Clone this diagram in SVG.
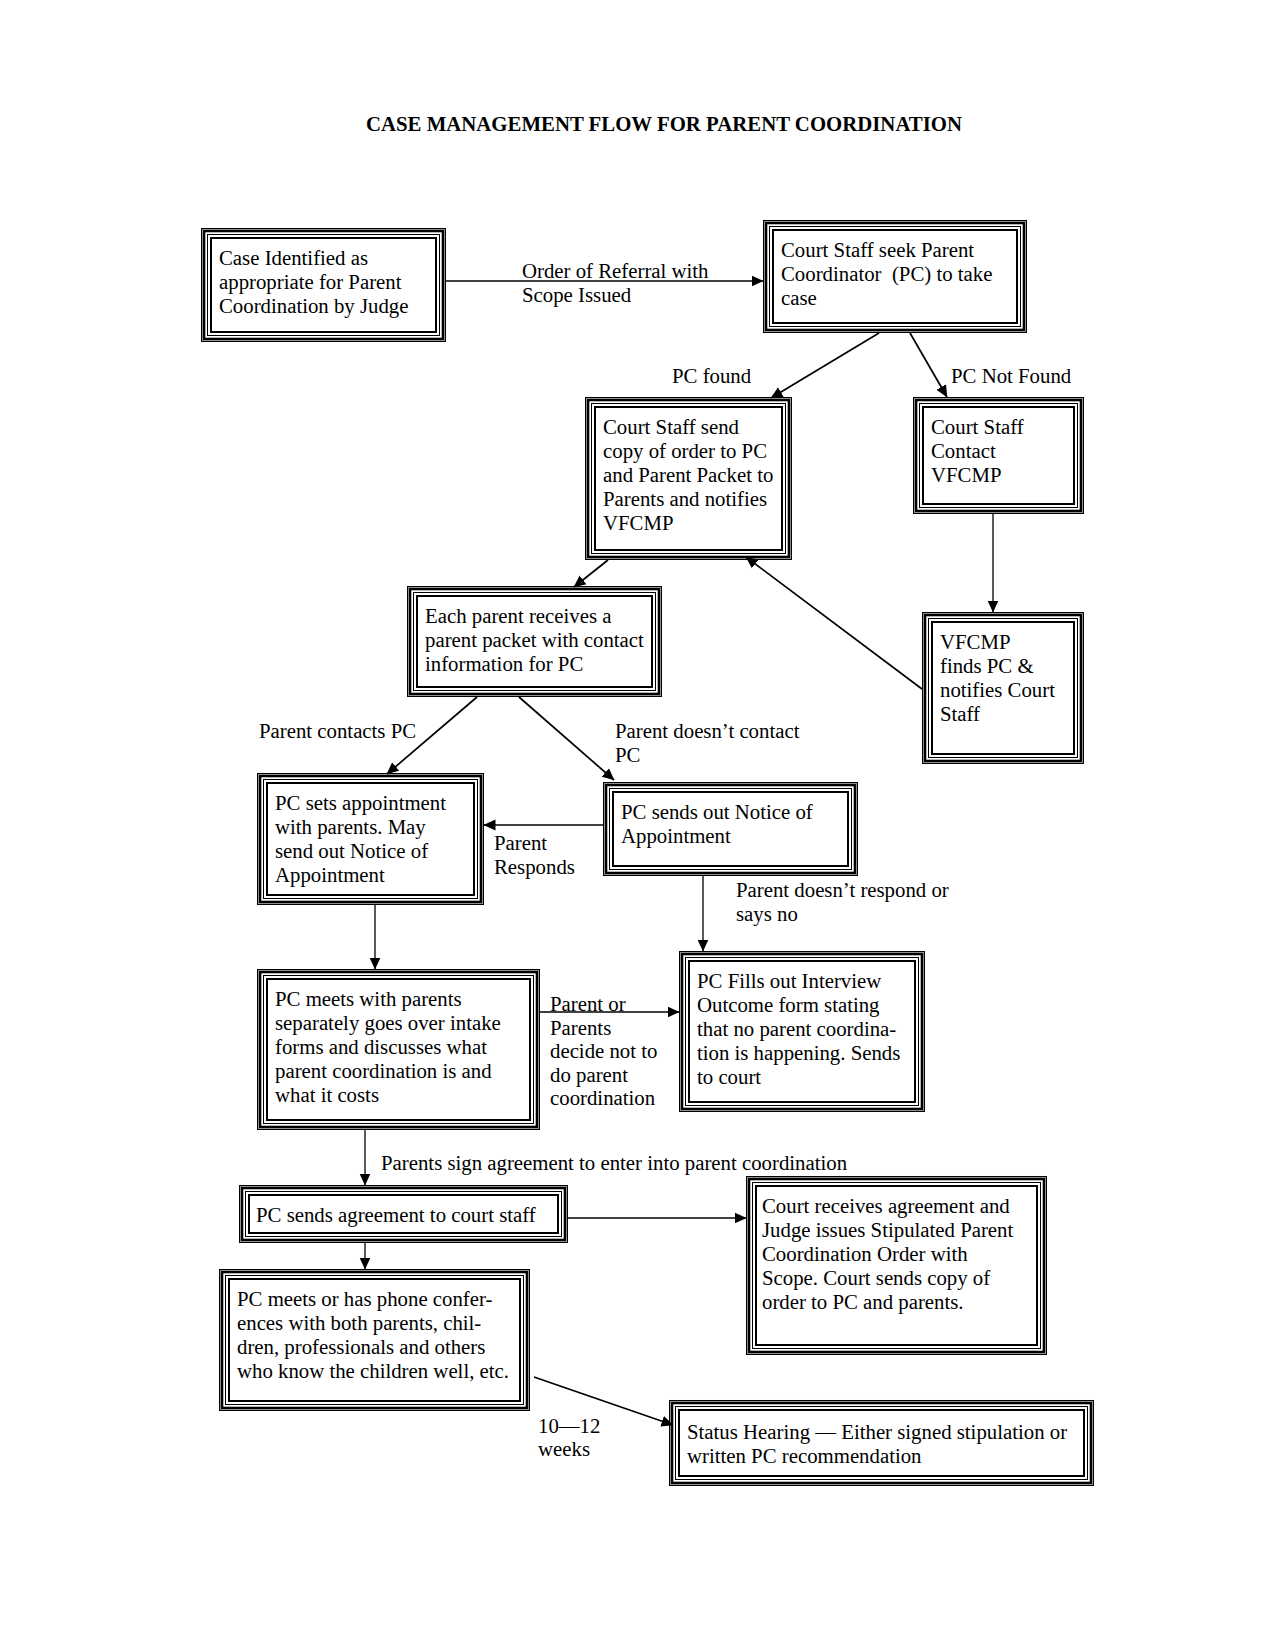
<svg xmlns="http://www.w3.org/2000/svg" width="1275" height="1650" viewBox="0 0 1275 1650">
<style>
text{font-family:"Liberation Serif","Times New Roman",serif;font-size:20.8px;fill:#000}
.title{font-weight:bold}
.f rect{fill:none;stroke:#000}
.a{stroke-width:1.2}
.b{stroke-width:2.6}
.c{stroke-width:1}
.d{stroke-width:2}
.bg{fill:#fff;stroke:none}
#connectors line{stroke:#000;stroke-width:1.7;fill:none;marker-end:url(#arr)}
#connectors line.v{stroke-width:1.3}
</style>
<defs>
<marker id="arr" markerUnits="userSpaceOnUse" markerWidth="12" markerHeight="12" viewBox="0 0 12 12" refX="11.5" refY="6" orient="auto">
<path d="M0,0.5 L12,6 L0,11.5 z" fill="#000"/>
</marker>
</defs>
<rect class="bg" x="0" y="0" width="1275" height="1650"/>
<text class="title" x="664" y="131" text-anchor="middle">CASE MANAGEMENT FLOW FOR PARENT COORDINATION</text>

<g id="connectors">
<line x1="446" y1="281" x2="763" y2="281"/>
<line x1="879" y1="333" x2="771" y2="398"/>
<line x1="910" y1="333" x2="947" y2="397"/>
<line class="v" x1="993" y1="514" x2="993" y2="612"/>
<line x1="922" y1="689" x2="746" y2="557"/>
<line x1="608" y1="560" x2="574" y2="587"/>
<line x1="477" y1="697" x2="387" y2="774"/>
<line x1="519" y1="697" x2="614" y2="780"/>
<line x1="603" y1="825" x2="484" y2="825"/>
<line class="v" x1="703" y1="876" x2="703" y2="951"/>
<line class="v" x1="375" y1="905" x2="375" y2="969"/>
<line x1="540" y1="1012" x2="679" y2="1012"/>
<line class="v" x1="365" y1="1130" x2="365" y2="1185"/>
<line x1="568" y1="1218" x2="746" y2="1218"/>
<line class="v" x1="365" y1="1243" x2="365" y2="1269"/>
<line x1="534" y1="1377" x2="673" y2="1425"/>
</g>

<g id="labels">
<text x="522" y="278">Order of Referral with</text>
<text x="522" y="302">Scope Issued</text>
<text x="672" y="383">PC found</text>
<text x="951" y="383">PC Not Found</text>
<text x="259" y="738">Parent contacts PC</text>
<text x="615" y="738">Parent doesn’t contact</text>
<text x="615" y="762">PC</text>
<text x="494" y="850">Parent</text>
<text x="494" y="874">Responds</text>
<text x="736" y="897">Parent doesn’t respond or</text>
<text x="736" y="921">says no</text>
<text x="550" y="1011">Parent or</text>
<text x="550" y="1035">Parents</text>
<text x="550" y="1058">decide not to</text>
<text x="550" y="1082">do parent</text>
<text x="550" y="1105">coordination</text>
<text x="381" y="1170">Parents sign agreement to enter into parent coordination</text>
<text x="538" y="1433">10—12</text>
<text x="538" y="1456">weeks</text>
</g>

<g id="n1" class="f">
<rect class="a" x="201.6" y="228.6" width="243.8" height="112.8"/>
<rect class="b" x="204" y="231" width="239" height="108"/>
<rect class="c" x="207.5" y="234.5" width="232" height="101"/>
<rect class="d" x="211" y="238" width="225" height="94"/>
<text x="219" y="265">Case Identified as</text>
<text x="219" y="289">appropriate for Parent</text>
<text x="219" y="313">Coordination by Judge</text>
</g>

<g id="n2" class="f">
<rect class="a" x="763.6" y="220.6" width="262.8" height="111.8"/>
<rect class="b" x="766" y="223" width="258" height="107"/>
<rect class="c" x="769.5" y="226.5" width="251" height="100"/>
<rect class="d" x="773" y="230" width="244" height="93"/>
<text x="781" y="257">Court Staff seek Parent</text>
<text x="781" y="281" xml:space="preserve">Coordinator  (PC) to take</text>
<text x="781" y="305">case</text>
</g>

<g id="n3" class="f">
<rect class="a" x="585.6" y="397.6" width="205.8" height="161.8"/>
<rect class="b" x="588" y="400" width="201" height="157"/>
<rect class="c" x="591.5" y="403.5" width="194" height="150"/>
<rect class="d" x="595" y="407" width="187" height="143"/>
<text x="603" y="434">Court Staff send</text>
<text x="603" y="458">copy of order to PC</text>
<text x="603" y="482">and Parent Packet to</text>
<text x="603" y="506">Parents and notifies</text>
<text x="603" y="530">VFCMP</text>
</g>

<g id="n4" class="f">
<rect class="a" x="913.6" y="397.6" width="169.8" height="115.8"/>
<rect class="b" x="916" y="400" width="165" height="111"/>
<rect class="c" x="919.5" y="403.5" width="158" height="104"/>
<rect class="d" x="923" y="407" width="151" height="97"/>
<text x="931" y="434">Court Staff</text>
<text x="931" y="458">Contact</text>
<text x="931" y="482">VFCMP</text>
</g>

<g id="n5" class="f">
<rect class="a" x="922.6" y="612.6" width="160.8" height="150.8"/>
<rect class="b" x="925" y="615" width="156" height="146"/>
<rect class="c" x="928.5" y="618.5" width="149" height="139"/>
<rect class="d" x="932" y="622" width="142" height="132"/>
<text x="940" y="649">VFCMP</text>
<text x="940" y="673">finds PC &amp;</text>
<text x="940" y="697">notifies Court</text>
<text x="940" y="721">Staff</text>
</g>

<g id="n6" class="f">
<rect class="a" x="407.6" y="586.6" width="253.8" height="109.8"/>
<rect class="b" x="410" y="589" width="249" height="105"/>
<rect class="c" x="413.5" y="592.5" width="242" height="98"/>
<rect class="d" x="417" y="596" width="235" height="91"/>
<text x="425" y="623">Each parent receives a</text>
<text x="425" y="647">parent packet with contact</text>
<text x="425" y="671">information for PC</text>
</g>

<g id="n7" class="f">
<rect class="a" x="257.6" y="773.6" width="225.8" height="130.8"/>
<rect class="b" x="260" y="776" width="221" height="126"/>
<rect class="c" x="263.5" y="779.5" width="214" height="119"/>
<rect class="d" x="267" y="783" width="207" height="112"/>
<text x="275" y="810">PC sets appointment</text>
<text x="275" y="834">with parents. May</text>
<text x="275" y="858">send out Notice of</text>
<text x="275" y="882">Appointment</text>
</g>

<g id="n8" class="f">
<rect class="a" x="603.6" y="782.6" width="253.8" height="92.8"/>
<rect class="b" x="606" y="785" width="249" height="88"/>
<rect class="c" x="609.5" y="788.5" width="242" height="81"/>
<rect class="d" x="613" y="792" width="235" height="74"/>
<text x="621" y="819">PC sends out Notice of</text>
<text x="621" y="843">Appointment</text>
</g>

<g id="n9" class="f">
<rect class="a" x="257.6" y="969.6" width="281.8" height="159.8"/>
<rect class="b" x="260" y="972" width="277" height="155"/>
<rect class="c" x="263.5" y="975.5" width="270" height="148"/>
<rect class="d" x="267" y="979" width="263" height="141"/>
<text x="275" y="1006">PC meets with parents</text>
<text x="275" y="1030">separately goes over intake</text>
<text x="275" y="1054">forms and discusses what</text>
<text x="275" y="1078">parent coordination is and</text>
<text x="275" y="1102">what it costs</text>
</g>

<g id="n10" class="f">
<rect class="a" x="679.6" y="951.6" width="244.8" height="159.8"/>
<rect class="b" x="682" y="954" width="240" height="155"/>
<rect class="c" x="685.5" y="957.5" width="233" height="148"/>
<rect class="d" x="689" y="961" width="226" height="141"/>
<text x="697" y="988">PC Fills out Interview</text>
<text x="697" y="1012">Outcome form stating</text>
<text x="697" y="1036">that no parent coordina-</text>
<text x="697" y="1060">tion is happening. Sends</text>
<text x="697" y="1084">to court</text>
</g>

<g id="n11" class="f">
<rect class="a" x="239.6" y="1185.6" width="327.8" height="56.8"/>
<rect class="b" x="242" y="1188" width="323" height="52"/>
<rect class="c" x="245.5" y="1191.5" width="316" height="45"/>
<rect class="d" x="249" y="1195" width="309" height="38"/>
<text x="256" y="1222">PC sends agreement to court staff</text>
</g>

<g id="n12" class="f">
<rect class="a" x="746.6" y="1176.6" width="299.8" height="177.8"/>
<rect class="b" x="749" y="1179" width="295" height="173"/>
<rect class="c" x="752.5" y="1182.5" width="288" height="166"/>
<rect class="d" x="756" y="1186" width="281" height="159"/>
<text x="762" y="1213">Court receives agreement and</text>
<text x="762" y="1237">Judge issues Stipulated Parent</text>
<text x="762" y="1261">Coordination Order with</text>
<text x="762" y="1285">Scope. Court sends copy of</text>
<text x="762" y="1309">order to PC and parents.</text>
</g>

<g id="n13" class="f">
<rect class="a" x="219.6" y="1269.6" width="309.8" height="140.8"/>
<rect class="b" x="222" y="1272" width="305" height="136"/>
<rect class="c" x="225.5" y="1275.5" width="298" height="129"/>
<rect class="d" x="229" y="1279" width="291" height="122"/>
<text x="237" y="1306">PC meets or has phone confer-</text>
<text x="237" y="1330">ences with both parents, chil-</text>
<text x="237" y="1354">dren, professionals and others</text>
<text x="237" y="1378">who know the children well, etc.</text>
</g>

<g id="n14" class="f">
<rect class="a" x="669.6" y="1400.6" width="423.8" height="84.8"/>
<rect class="b" x="672" y="1403" width="419" height="80"/>
<rect class="c" x="675.5" y="1406.5" width="412" height="73"/>
<rect class="d" x="679" y="1410" width="405" height="66"/>
<text x="687" y="1439">Status Hearing — Either signed stipulation or</text>
<text x="687" y="1463">written PC recommendation</text>
</g>
</svg>
